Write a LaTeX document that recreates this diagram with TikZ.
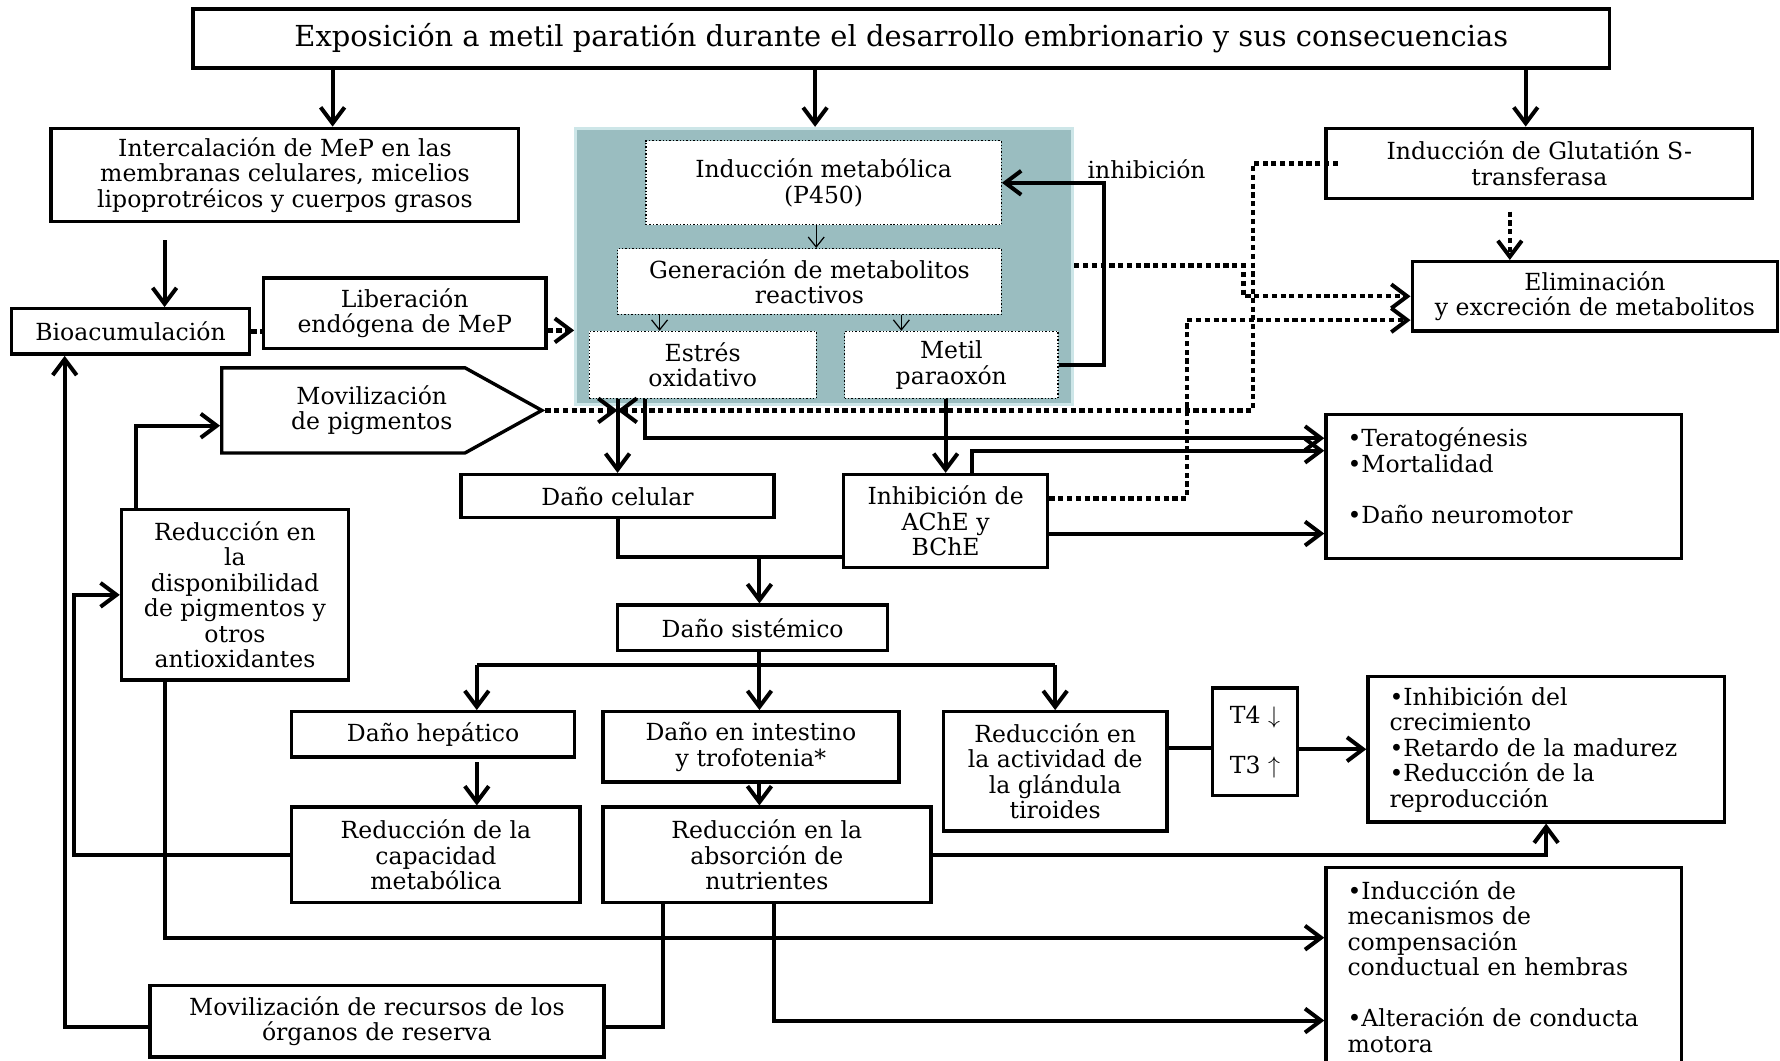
\documentclass[tikz,border=0pt]{standalone}
\usepackage{fontspec}
\setmainfont{DejaVu Serif}
\usetikzlibrary{arrows.meta,calc,shapes.symbols}
\newcommand\cuerpo{\fontsize{11.8}{12.8}\selectfont}
\newcommand\titulo{\fontsize{14.5}{16}\selectfont}
\definecolor{verdeazul}{RGB}{154,189,192}
\definecolor{bordeclaro}{RGB}{205,230,232}

\begin{document}
\begin{tikzpicture}[x=0.02cm, y=-0.02cm]
  \tikzset{
  caja/.style = {draw, line width=1.7pt, fill=white, align=center,
  inner sep=2pt, font=\cuerpo},
  cajap/.style = {draw, densely dotted, line width=0.7pt, fill=white,
  align=center, inner sep=2pt, font=\cuerpo},
  lista/.style = {caja, align=left, inner xsep=0.38cm},
  linea/.style = {line width=2pt},
  flecha/.style = {linea, -{Straight Barb[length=8pt,width=12pt]}},
  punteado/.style = {line width=2.2pt, dash pattern=on 2.6pt off 1.8pt},
  flechap/.style = {punteado, -{Straight Barb[length=8pt,width=12pt,line width=2pt]}},
  fina/.style = {line width=0.6pt, -{Straight Barb[length=5pt,width=8pt]}}}
  \useasboundingbox (0,0) rectangle (1568,934);
  % cabecera y primer nivel
  \node[caja, font=\titulo, minimum width=24.96cm, minimum height=1.04cm] (expo) at (794,34)
    {Exposición a metil paratión durante el desarrollo embrionario y sus consecuencias};
  \node[caja, minimum width=8.24cm, minimum height=1.64cm] (intercal) at (251,154)
    {Intercalación de MeP en las\\membranas celulares, micelios\\lipoprotréicos y cuerpos grasos};
  \node[fill=verdeazul, draw=bordeclaro, line width=1.5pt, minimum width=8.76cm,
    minimum height=4.86cm] (metab) at (726,234.5) {};
  \node[caja, minimum width=7.52cm, minimum height=1.24cm] (glut) at (1356,144)
    {Inducción de Glutatión S-\\transferasa};
  % dentro del recuadro sombreado
  \node[cajap, minimum width=6.26cm, minimum height=1.48cm] (indmet) at (725.5,161)
    {Inducción metabólica\\(P450)};
  \node[cajap, minimum width=6.76cm, minimum height=1.16cm] (gener) at (713,248)
    {Generación de metabolitos\\reactivos};
  \node[cajap, minimum width=4cm, minimum height=1.18cm] (estres) at (619,321.5)
    {Estrés\\oxidativo};
  \node[cajap, minimum width=3.76cm, minimum height=1.18cm] (metil) at (838,321.5)
    {Metil\\paraoxón};
  \node[font=\cuerpo] (inh) at (1010,149) {inhibición};
  % izquierda
  \node[caja, minimum width=6.44cm, minimum height=1.22cm] (elim) at (1405,261)
    {Eliminación\\y excreción de metabolitos};
  \node[caja, minimum width=4.2cm, minimum height=0.8cm] (bioac) at (115,292)
    {Bioacumulación};
  \node[caja, minimum width=4.98cm, minimum height=1.24cm] (liber) at (356.5,276)
    {Liberación\\endógena de MeP};
  \node[caja, shape=signal, signal to=east, signal pointer angle=58,
    minimum width=5.64cm, minimum height=1.5cm] (movpig) at (302.5,361.5)
    {\hspace*{1cm}Movilización\\\hspace*{1cm}de pigmentos};
  \node[caja, minimum width=4cm, minimum height=3cm] (redpig) at (207,524)
    {Reducción en\\la\\disponibilidad\\de pigmentos y\\otros\\antioxidantes};
  % centro
  \node[caja, minimum width=5.52cm, minimum height=0.76cm] (dcel) at (544,437)
    {Daño celular};
  \node[caja, minimum width=3.6cm, minimum height=1.64cm] (ache) at (833,459)
    {Inhibición de\\AChE y\\BChE};
  \node[lista, text width=5.5cm, text depth=49.2pt, minimum height=2.54cm] (terat) at (1324.5,428.5)
    {•Teratogénesis\\•Mortalidad\\[12.8pt]•Daño neuromotor};
  \node[caja, minimum width=4.76cm, minimum height=0.8cm] (dsis) at (663,553)
    {Daño sistémico};
  \node[caja, minimum width=4.98cm, minimum height=0.8cm] (dhep) at (381.5,647)
    {Daño hepático};
  \node[caja, minimum width=5.22cm, minimum height=1.24cm] (dint) at (661.5,658)
    {Daño en intestino\\y trofotenia*};
  \node[caja, minimum width=3.94cm, minimum height=2.1cm] (tiro) at (929.5,679.5)
    {Reducción en\\la actividad de\\la glándula\\tiroides};
  \node[caja, minimum width=1.5cm, minimum height=1.9cm] (tbox) at (1105.5,653.5)
    {T4 $\downarrow$\\[0.43cm]T3 $\uparrow$};
  \node[lista, text width=5.52cm, minimum height=2.56cm] (crec) at (1362,660)
    {•Inhibición del\\crecimiento\\•Retardo de la madurez\\•Reducción de la\\reproducción};
  \node[caja, minimum width=5.08cm, minimum height=1.68cm] (rcap) at (384,753)
    {Reducción de la\\capacidad\\metabólica};
  \node[caja, minimum width=5.78cm, minimum height=1.68cm] (rabs) at (675.5,753)
    {Reducción en la\\absorción de\\nutrientes};
  \node[lista, text width=5.5cm, minimum height=3.5cm] (comp) at (1324.5,851.5)
    {•Inducción de\\mecanismos de\\compensación\\conductual en hembras\\[12.8pt]•Alteración de conducta\\motora};
  \node[caja, minimum width=8cm, minimum height=1.26cm] (movrec) at (332,899.5)
    {Movilización de recursos de los\\órganos de reserva};
  \coordinate (junta) at (669,491);
  \coordinate (rama) at (669,586);

  % conectores
  \draw[flecha] (expo.south -| 293,0) -- (intercal.north -| 293,0);
  \draw[flecha] (expo.south -| 718,0) -- (metab.north -| 718,0);
  \draw[flecha] (expo.south -| 1344,0) -- (glut.north -| 1344,0);
  \draw[flecha] ($(intercal.south -| 145,0)+(0,15)$) -- (bioac.north -| 145,0);
  \draw[punteado] (bioac.east) -- (liber.west |- bioac.east);
  \draw[flechap] (liber.east |- 0,291) -- (metab.west |- 0,291);
  \draw[fina] (indmet.south -| 719,0) -- (gener.north -| 719,0);
  \draw[fina] (gener.south -| 581,0) -- (estres.north -| 581,0);
  \draw[fina] (gener.south -| 794,0) -- (metil.north -| 794,0);
  \draw[flecha] (metil.east) -- ++(40,0) |- (indmet.east);
  \draw[flechap] (metab.east |- 0,234) -- ++(149,0) |- (elim.west);
  \draw[flechap] (ache.east |- 0,439) -- ++(121,0) |- (elim.west |- 0,282);
  \draw[flechap] ($(glut.west)+(12,0)$) -- ++(-75,0) |- (dcel.north |- movpig.east);
  \draw[flechap] (movpig.east) -- (dcel.north |- movpig.east);
  \draw[flechap] ($(glut.south -| 1330,0)+(0,10)$) -- (elim.north -| 1330,0);
  \draw[flecha] (estres.south -| dcel.north) -- (dcel.north);
  \draw[flecha] (estres.south -| 568,0) |- (terat.west |- 0,386);
  \draw[flecha] (metil.south -| ache.north) -- (ache.north);
  \draw[flecha] (ache.north -| 856,0) |- (terat.west |- 0,397);
  \draw[flecha] (ache.east |- 0,470) -- (terat.west |- 0,470);
  \draw[linea] (dcel.south) |- (ache.west |- junta);
  \draw[flecha] (junta) -- (dsis.north -| junta);
  \draw[linea] (dsis.south -| rama) -- (rama);
  \draw[linea] (rama -| 420,0) -- (rama -| tiro.north);
  \draw[flecha] (rama -| 420,0) -- (dhep.north -| 420,0);
  \draw[flecha] (rama) -- (dint.north -| rama);
  \draw[flecha] (rama -| tiro.north) -- (tiro.north);
  \draw[flecha] ($(dhep.south -| 420,0)+(0,3)$) -- (rcap.north -| 420,0);
  \draw[flecha] (dint.south -| rama) -- (rabs.north -| rama);
  \draw[linea] (tiro.east |- 0,659) -- (tbox.west |- 0,659);
  \draw[flecha] (tbox.east |- crec.west) -- (crec.west);
  \draw[flecha] (rabs.east) -| (crec.south);
  \draw[flecha] (rcap.west) -- ++(-190,0) |- (redpig.west);
  \draw[flecha] (redpig.north -| 120,0) |- (movpig.west |- 0,375);
  \draw[flecha] (redpig.south -| 145,0) |- (comp.west |- 0,826);
  \draw[linea] (rabs.south -| 584,0) |- (movrec.east |- 0,905);
  \draw[flecha] (movrec.west |- 0,905) -| (bioac.south -| 57,0);
  \draw[flecha] (rabs.south -| 682,0) |- (comp.west |- 0,899);
\end{tikzpicture}
\end{document}
